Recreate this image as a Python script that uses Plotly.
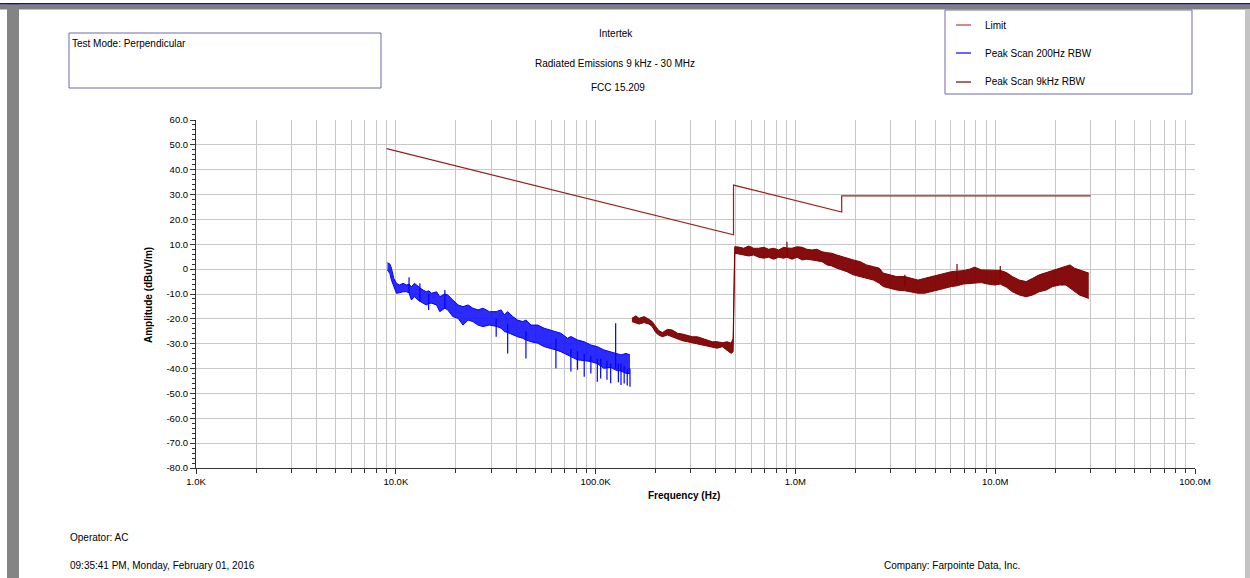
import plotly.graph_objects as go

# ---------------- data ----------------
limit_khz = [9, 490, 490, 1705, 1705, 30000]
limit_db = [48.5, 13.8, 33.8, 23.0, 29.5, 29.5]

# Peak Scan 200Hz RBW (blue): band body upper / lower edge
blue_khz = [9.08, 9.33, 9.51, 9.77, 10.07, 10.45, 10.86, 11.3, 11.65, 11.97,
            12.4, 12.9, 13.2, 13.7, 14.2, 14.6, 15.1, 16.0, 16.6, 17.6,
            18.2, 19.3, 20.5, 21.7, 23.0, 24.3, 25.8, 27.3, 29.4, 31.8,
            33.7, 34.9, 36.3, 38.5, 40.7, 43.2, 44.8, 47.5, 51.3, 55.4,
            59.8, 63.3, 67.0, 72.4, 75.2, 81.2, 87.7, 94.7, 102, 110,
            119, 126, 134, 142, 148.6]
blue_hi = [2.6, 2.1, 0.4, -3.7, -5.7, -6.4, -5.7, -6.4, -6.0, -7.1,
           -5.7, -7.1, -7.5, -8.4, -9.1, -8.7, -9.7, -9.1, -11.1, -10.0,
           -10.4, -12.4, -14.4, -15.1, -14.4, -15.7, -16.4, -15.7, -17.1, -17.1,
           -16.4, -18.4, -17.1, -19.1, -20.5, -21.1, -20.5, -22.5, -22.5, -23.8,
           -24.5, -25.1, -25.8, -27.8, -27.1, -28.5, -29.2, -30.5, -31.2, -32.5,
           -33.2, -34.0, -34.5, -33.9, -34.5]
blue_lo = [-0.4, -1.7, -4.4, -7.1, -9.7, -9.5, -9.1, -9.1, -9.5, -12.4,
           -11.1, -12.4, -13.0, -13.7, -14.4, -13.8, -13.7, -14.4, -17.1, -15.7,
           -16.4, -19.1, -19.8, -22.5, -20.5, -21.1, -22.5, -23.1, -22.5, -23.0,
           -23.8, -25.1, -25.5, -26.5, -27.2, -27.8, -28.5, -29.2, -29.8, -31.2,
           -31.8, -32.5, -33.2, -34.5, -35.0, -36.5, -36.8, -37.2, -38.0, -39.9,
           -39.5, -40.6, -41.0, -41.9, -42.0]
blue_spike_khz = [11.65, 13.2, 14.6, 17.6, 31.8, 36.3, 44.8, 63.3, 75.2, 81.2,
                  87.7, 94.7, 102, 106, 114, 119, 126, 130, 134, 139, 144, 148.6]
blue_spike_base = [-9.5, -13.0, -10.0, -15.7, -20.0, -22.0, -25.0, -28.0, -32.0, -33.0,
                   -34.0, -35.0, -36.0, -36.0, -37.0, -38.0, -40.0, -38.0, -38.0, -39.0,
                   -40.0, -40.0]
blue_spike_tip = [-3.3, -5.7, -16.4, -8.4, -27.2, -33.9, -35.9, -39.9, -41.2, -40.5,
                  -43.3, -42.0, -45.3, -44.0, -44.5, -45.9, -21.8, -45.5, -46.6, -46.0,
                  -46.8, -47.3]

# Peak Scan 9kHz RBW (dark red): band body upper / lower edge
brn_khz = [152, 159, 165, 175, 185, 192, 200, 207, 216, 229,
           242, 257, 272, 288, 305, 323, 342, 362, 384, 406,
           431, 456, 477, 488, 497, 520, 551, 584, 618, 655,
           694, 735, 778, 824, 873, 907, 961, 1020, 1080, 1140,
           1210, 1280, 1360, 1440, 1520, 1610, 1710, 1810, 1950, 2110,
           2270, 2460, 2630, 2750, 2970, 3210, 3530, 3810, 4110, 4440,
           4800, 5180, 5590, 6040, 6440, 6900, 7450, 7890, 8520, 9200,
           9940, 10600, 11400, 12200, 13200, 14300, 15400, 16600, 18000, 19400,
           21000, 22600, 23700, 24900, 26400, 27900, 29400]
brn_hi = [-19.8, -18.8, -19.8, -19.1, -20.2, -21.1, -23.1, -24.7, -25.5, -24.2,
          -24.5, -25.8, -26.1, -26.5, -27.2, -27.2, -27.8, -28.5, -29.2, -29.2,
          -29.6, -29.2, -29.8, -27.8, 9.0, 8.9, 8.4, 9.3, 8.4, 8.4,
          8.8, 8.0, 8.4, 7.7, 8.8, 8.5, 8.4, 9.0, 8.8, 8.0,
          7.7, 8.0, 7.0, 6.6, 6.4, 5.7, 5.0, 4.4, 3.7, 3.0,
          1.7, 1.0, 0.4, -1.6, -2.3, -3.0, -3.0, -3.7, -4.4, -3.7,
          -3.0, -2.3, -1.6, -1.0, -0.8, -0.6, 0.0, 0.8, -0.3, -0.3,
          -0.3, -0.5, -1.4, -3.0, -4.4, -5.0, -3.7, -2.3, -1.4, -0.6,
          0.4, 1.0, 1.7, 0.4, -0.3, -1.0, -1.6]
brn_lo = [-21.1, -21.8, -22.1, -21.5, -22.1, -23.1, -25.5, -26.5, -27.2, -26.5,
          -27.2, -28.2, -28.8, -29.2, -29.6, -30.1, -30.5, -30.9, -31.4, -31.8,
          -31.2, -32.5, -33.9, -33.2, 6.4, 6.1, 5.7, 5.3, 5.7, 4.8,
          4.4, 4.8, 4.0, 4.8, 4.4, 4.8, 4.0, 4.8, 3.7, 4.0,
          3.7, 3.4, 3.0, 1.7, 1.3, 0.4, -0.3, -1.0, -2.3, -3.0,
          -3.7, -4.4, -5.7, -7.0, -7.7, -8.4, -8.7, -9.1, -9.7, -9.7,
          -9.1, -8.4, -7.7, -7.0, -6.7, -6.0, -5.7, -5.7, -5.4, -6.0,
          -6.4, -6.0, -7.3, -9.1, -10.4, -11.1, -10.4, -9.1, -8.4, -7.0,
          -6.4, -6.4, -7.7, -9.1, -10.4, -11.1, -11.8]
brn_spike_khz = [907, 3530, 6440, 10600]
brn_spike_base = [4.8, -7.0, -5.0, -4.0]
brn_spike_tip = [11.0, -2.3, 2.1, 1.3]

x_tick_vals = [1e3, 1e4, 1e5, 1e6, 1e7, 1e8]
x_tick_text = ["1.0K", "10.0K", "100.0K", "1.0M", "10.0M", "100.0M"]
y_tick_vals = [60, 50, 40, 30, 20, 10, 0, -10, -20, -30, -40, -50, -60, -70, -80]
y_tick_text = ["60.0", "50.0", "40.0", "30.0", "20.0", "10.0", "0", "-10.0", "-20.0",
               "-30.0", "-40.0", "-50.0", "-60.0", "-70.0", "-80.0"]

legend_names = ["Limit", "Peak Scan 200Hz RBW", "Peak Scan 9kHz RBW"]

# ---------------- styling / geometry ----------------
W, H = 1250, 578              # screenshot size
L, R, T, B = 196, 1195, 120, 468   # plot area in screenshot pixels
FONT = "Liberation Sans, Arial, sans-serif"
C_LIMIT = "#9a1f1f"
C_BLUE = "#0000ff"
C_BRN = "#7f0000"
C_LEG_LIMIT = "#c03a3a"
GRID = "#c8c8c8"
BOX = "#6b6bb0"


def px(x):
    return (x - L) / (R - L)


def py(y):
    return (B - y) / (B - T)


def hz(vals):
    return [v * 1e3 for v in vals]


def spikes(f, base, tip):
    xs, ys = [], []
    for a, b, c in zip(hz(f), base, tip):
        xs += [a, a, None]
        ys += [b, c, None]
    return xs, ys


fig = go.Figure()

# limit
fig.add_trace(go.Scatter(x=hz(limit_khz), y=limit_db, mode="lines",
                         line=dict(color=C_LIMIT, width=1.2), showlegend=False))

# blue band
fig.add_trace(go.Scatter(x=hz(blue_khz), y=blue_hi, mode="lines",
                         line=dict(color=C_BLUE, width=1), showlegend=False))
fig.add_trace(go.Scatter(x=hz(blue_khz), y=blue_lo, mode="lines", fill="tonexty",
                         fillcolor="rgba(20,20,255,0.9)",
                         line=dict(color=C_BLUE, width=1), showlegend=False))
sx, sy = spikes(blue_spike_khz, blue_spike_base, blue_spike_tip)
fig.add_trace(go.Scatter(x=sx, y=sy, mode="lines", line=dict(color=C_BLUE, width=1.2),
                         showlegend=False))

# dark red band
fig.add_trace(go.Scatter(x=hz(brn_khz), y=brn_hi, mode="lines",
                         line=dict(color=C_BRN, width=1), showlegend=False))
fig.add_trace(go.Scatter(x=hz(brn_khz), y=brn_lo, mode="lines", fill="tonexty",
                         fillcolor="rgba(127,0,0,0.95)",
                         line=dict(color=C_BRN, width=1), showlegend=False))
sx, sy = spikes(brn_spike_khz, brn_spike_base, brn_spike_tip)
fig.add_trace(go.Scatter(x=sx, y=sy, mode="lines", line=dict(color=C_BRN, width=1.2),
                         showlegend=False))

minor_x = [m * 10 ** e for e in range(3, 8) for m in range(2, 10)]

fig.update_xaxes(type="log", range=[3, 8], tickmode="array", tickvals=x_tick_vals,
                 ticktext=x_tick_text, showgrid=True, gridcolor=GRID, gridwidth=1,
                 ticks="outside", ticklen=5, tickcolor="#333333",
                 showline=True, linecolor="#333333", linewidth=1,
                 tickfont=dict(family=FONT, size=9.5, color="#000000"),
                 minor=dict(tickmode="array", tickvals=minor_x, showgrid=True,
                            gridcolor=GRID, gridwidth=1, ticks="outside", ticklen=4,
                            tickcolor="#333333"),
                 zeroline=False)
fig.update_yaxes(range=[-80, 60], tickmode="array", tickvals=y_tick_vals,
                 ticktext=y_tick_text, showgrid=True, gridcolor=GRID, gridwidth=1,
                 ticks="outside", ticklen=5, tickcolor="#333333",
                 showline=True, linecolor="#333333", linewidth=1,
                 tickfont=dict(family=FONT, size=9.5, color="#000000"),
                 minor=dict(dtick=2, ticks="outside", ticklen=3, tickcolor="#333333",
                            showgrid=False),
                 zeroline=False)

ann = []


def text(x, y, s, xa="left", size=10, bold=False, angle=0):
    t = f"<b>{s}</b>" if bold else s
    ann.append(dict(x=px(x), y=py(y), xref="paper", yref="paper", text=t,
                    showarrow=False, xanchor=xa, yanchor="middle", textangle=angle,
                    font=dict(family=FONT, size=size, color="#000000")))


text(70, 43, "Test Mode: Perpendicular")
text(616, 33, "Intertek", xa="center")
text(615, 63, "Radiated Emissions 9 kHz - 30 MHz", xa="center")
text(618, 87, "FCC 15.209", xa="center")
legend_y = [25, 53, 82]
for name, yy in zip(legend_names, legend_y):
    text(983, yy, name)
text(684, 495, "Frequency (Hz)", xa="center", bold=True)
text(148, 295, "Amplitude (dBuV/m)", xa="center", bold=True, angle=-90)
text(68, 537, "Operator: AC")
text(68, 565, "09:35:41 PM, Monday, February 01, 2016")
text(882, 565, "Company: Farpointe Data, Inc.")

shapes = []


def rect(x0, y0, x1, y1, line=None, fill=None, lw=1):
    shapes.append(dict(type="rect", xref="paper", yref="paper",
                       x0=px(x0), x1=px(x1), y0=py(y0), y1=py(y1),
                       line=dict(color=line or "rgba(0,0,0,0)", width=lw if line else 0),
                       fillcolor=fill or "rgba(0,0,0,0)", layer="above"))


def hline(x0, x1, y, color, lw=1):
    shapes.append(dict(type="line", xref="paper", yref="paper",
                       x0=px(x0), x1=px(x1), y0=py(y), y1=py(y),
                       line=dict(color=color, width=lw), layer="above"))


# page frame
rect(0, 4.5, 1250, 9.5, fill="#808080")
rect(7, 4.5, 19, 578, fill="#848484")
rect(1245, 9.5, 1250, 578, fill="#c4c4c4")
hline(0, 1250, 3.8, "#14147a", lw=1.5)

# boxes
rect(69, 33, 381, 88, line=BOX)
rect(945, 10, 1192, 94, line=BOX)
legend_colors = [C_LEG_LIMIT, C_BLUE, C_BRN]
for c, yy in zip(legend_colors, legend_y):
    hline(956, 971, yy, c, lw=1.2)

fig.update_layout(width=W, height=H,
                  margin=dict(l=L, r=W - R, t=T, b=H - B),
                  paper_bgcolor="#ffffff", plot_bgcolor="#ffffff",
                  showlegend=False, annotations=ann, shapes=shapes)

fig.write_html("out.html", config={"displayModeBar": False},
               post_script="document.body.style.margin='0';"
                           "document.body.style.overflow='hidden';")
